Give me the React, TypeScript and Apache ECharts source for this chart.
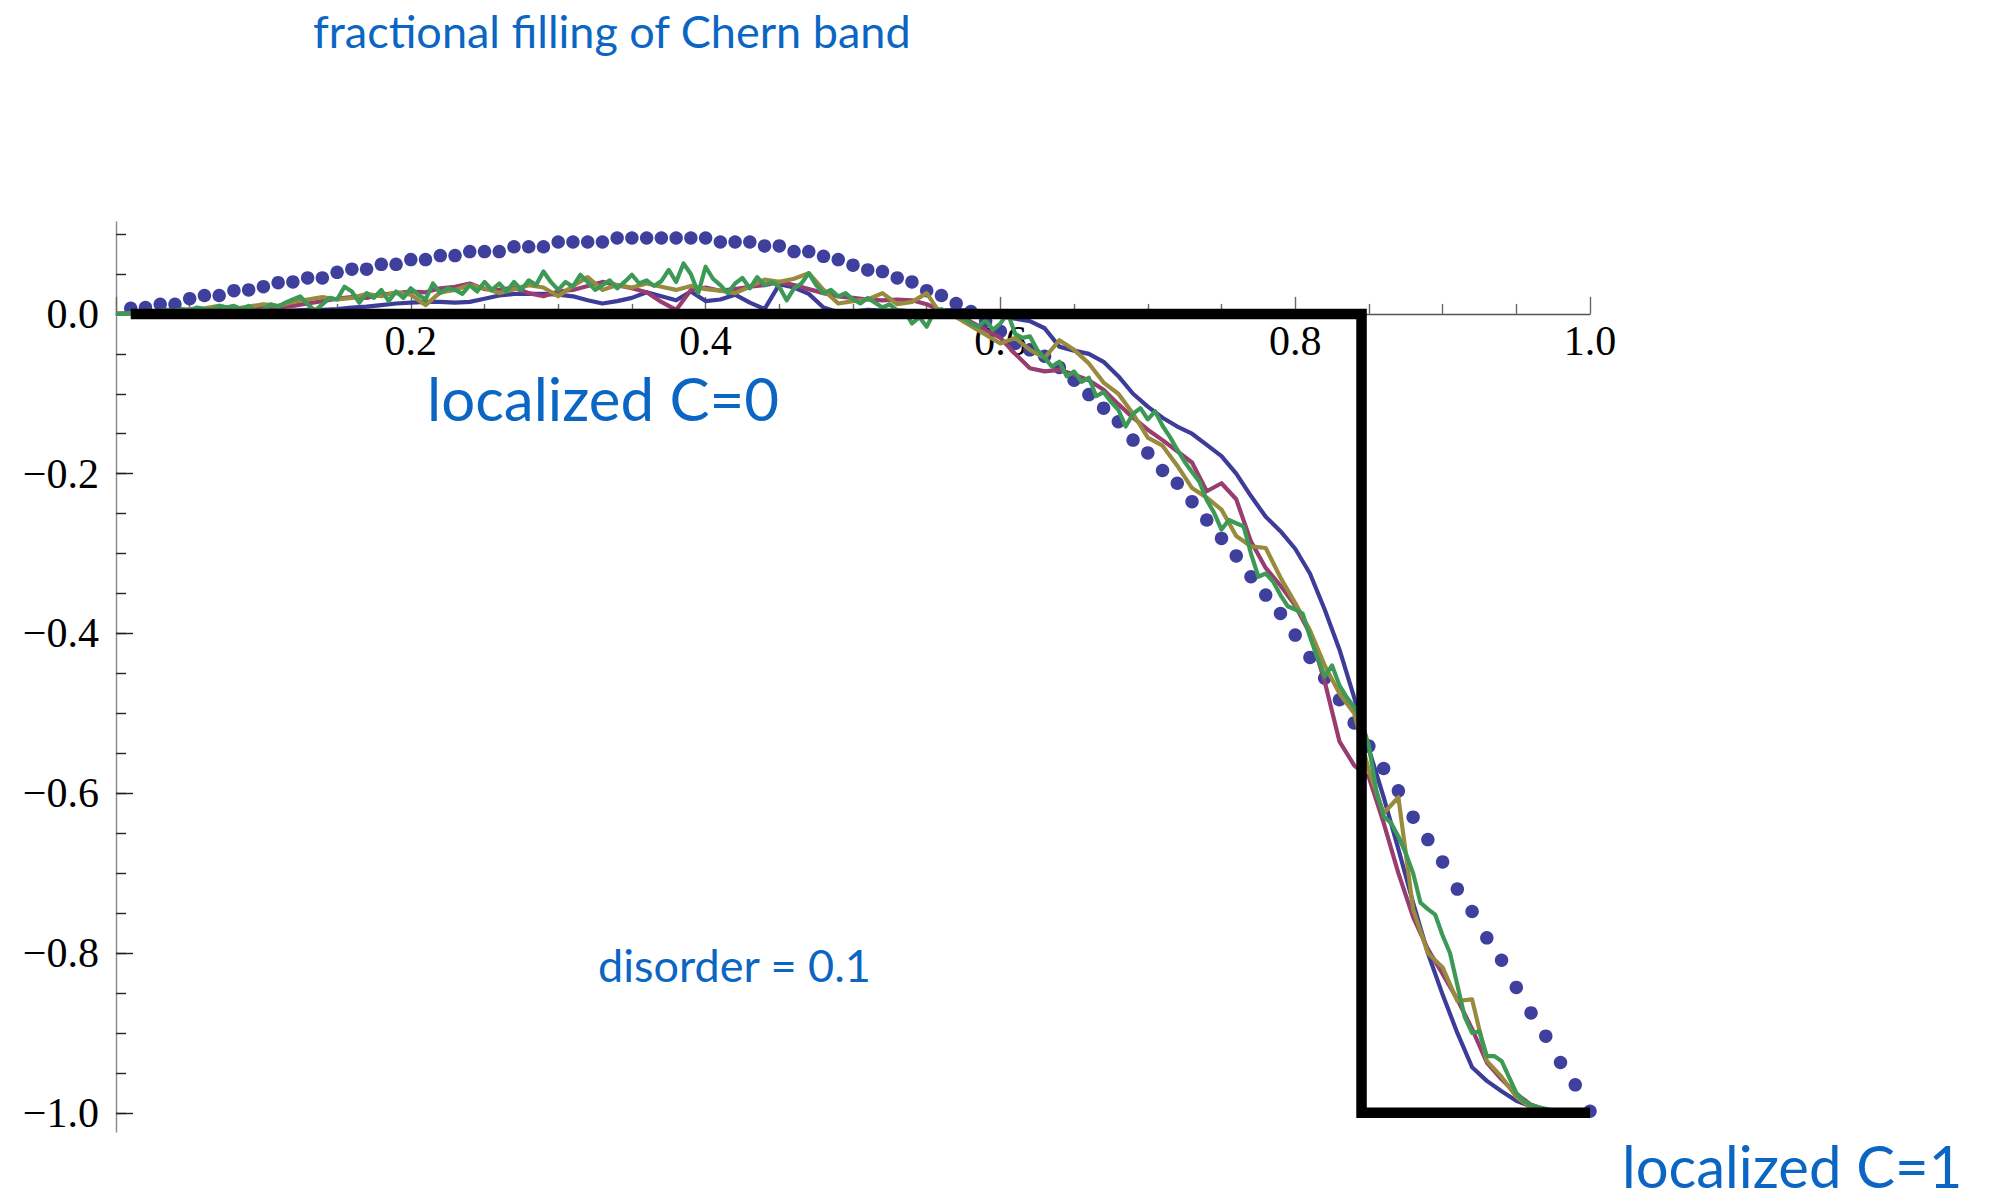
import { useEffect, useRef } from 'react';
import * as echarts from 'echarts';

// Dotted reference curve, sampled at x = 0.01, 0.02, ..., 1.00
const DOT_X0 = 0.01;
const DOT_STEP = 0.01;
const dotY = [
  0.007, 0.008, 0.012, 0.012, 0.019, 0.023, 0.023, 0.029, 0.030, 0.034,
  0.039, 0.040, 0.045, 0.045, 0.052, 0.056, 0.056, 0.062, 0.062, 0.068,
  0.068, 0.073, 0.073, 0.078, 0.078, 0.078, 0.084, 0.084, 0.084, 0.090,
  0.090, 0.090, 0.090, 0.095, 0.095, 0.095, 0.095, 0.095, 0.095, 0.095,
  0.090, 0.090, 0.090, 0.085, 0.085, 0.078, 0.078, 0.072, 0.068, 0.061,
  0.055, 0.053, 0.045, 0.040, 0.029, 0.023, 0.013, 0.003, -0.009, -0.022,
  -0.037, -0.045, -0.053, -0.067, -0.083, -0.101, -0.118, -0.135, -0.158, -0.174,
  -0.196, -0.212, -0.235, -0.258, -0.281, -0.303, -0.329, -0.352, -0.375, -0.402,
  -0.430, -0.456, -0.483, -0.512, -0.541, -0.569, -0.597, -0.630, -0.658, -0.686,
  -0.720, -0.748, -0.781, -0.809, -0.843, -0.875, -0.904, -0.937, -0.965, -0.998,
];

// Disorder realisations sampled at x = 0, 0.01, ..., 1.00
const LINE_STEP = 0.01;
const blueY = [
  0, 0, 0.001, 0.001, 0.001, 0.001, 0.002, 0.002, 0.002, 0.003,
  0.003, 0.004, 0.004, 0.005, 0.005, 0.006, 0.008, 0.009, 0.011, 0.013,
  0.014, 0.015, 0.015, 0.014, 0.015, 0.019, 0.023, 0.025, 0.025, 0.025,
  0.024, 0.022, 0.017, 0.013, 0.016, 0.020, 0.027, 0.022, 0.017, 0.028,
  0.016, 0.018, 0.024, 0.014, 0.006, 0.037, 0.033, 0.025, 0.008, 0.002,
  0.003, 0.005, 0.004, 0.004, 0.003, 0.003, 0.004, 0.005, 0.004, 0.001,
  -0.003, -0.006, -0.009, -0.018, -0.041, -0.046, -0.050, -0.060, -0.078, -0.100,
  -0.116, -0.130, -0.141, -0.150, -0.164, -0.178, -0.200, -0.228, -0.254, -0.272,
  -0.294, -0.325, -0.370, -0.420, -0.480, -0.545, -0.605, -0.670, -0.737, -0.800,
  -0.852, -0.900, -0.943, -0.960, -0.973, -0.985, -0.992, -0.997, -0.999, -1.000,
  -1.000,
];
const magentaY = [
  0, 0.001, 0.001, 0.002, 0.003, 0.004, 0.006, 0.005, 0.007, 0.008,
  0.009, 0.008, 0.010, 0.013, 0.016, 0.019, 0.021, 0.020, 0.024, 0.026,
  0.028, 0.027, 0.032, 0.034, 0.038, 0.031, 0.030, 0.033, 0.026, 0.022,
  0.028, 0.030, 0.035, 0.040, 0.036, 0.032, 0.027, 0.015, 0.005, 0.030,
  0.033, 0.029, 0.031, 0.034, 0.036, 0.040, 0.036, 0.031, 0.026, 0.022,
  0.020, 0.018, 0.017, 0.018, 0.017, 0.012, 0.004, 0.001, -0.010, -0.020,
  -0.030, -0.050, -0.068, -0.072, -0.070, -0.076, -0.083, -0.095, -0.113, -0.130,
  -0.145, -0.158, -0.172, -0.186, -0.222, -0.212, -0.232, -0.285, -0.318, -0.340,
  -0.365, -0.400, -0.460, -0.535, -0.565, -0.580, -0.637, -0.700, -0.755, -0.795,
  -0.826, -0.858, -0.895, -0.937, -0.958, -0.976, -0.990, -0.996, -1.000, -1.000,
  -1.000,
];
const oliveY = [
  0, 0.000, 0.001, 0.002, 0.004, 0.006, 0.007, 0.010, 0.006, 0.009,
  0.012, 0.010, 0.015, 0.018, 0.021, 0.018, 0.020, 0.025, 0.022, 0.027,
  0.024, 0.011, 0.027, 0.030, 0.036, 0.032, 0.026, 0.031, 0.036, 0.033,
  0.022, 0.035, 0.046, 0.030, 0.036, 0.033, 0.038, 0.034, 0.030, 0.035,
  0.031, 0.029, 0.026, 0.034, 0.043, 0.040, 0.044, 0.051, 0.030, 0.013,
  0.016, 0.018, 0.026, 0.012, 0.015, 0.026, -0.002, -0.004, -0.015, -0.026,
  -0.037, -0.030, -0.045, -0.055, -0.033, -0.045, -0.062, -0.086, -0.100, -0.125,
  -0.155, -0.165, -0.190, -0.218, -0.230, -0.245, -0.278, -0.291, -0.293, -0.330,
  -0.362, -0.396, -0.440, -0.475, -0.500, -0.572, -0.625, -0.605, -0.745, -0.800,
  -0.818, -0.860, -0.858, -0.935, -0.955, -0.980, -0.994, -0.998, -1.000, -1.000,
  -1.000,
];
// Finer realisation sampled at x = 0, 0.005, ..., 1.000
const GREEN_STEP = 0.005;
const greenY = [
  0, 0.000, 0.001, 0.000, 0.002, 0.001, 0.004, 0.005, 0.003, 0.006,
  0.004, 0.008, 0.006, 0.005, 0.010, 0.008, 0.010, 0.006, 0.010, 0.003,
  0.005, 0.012, 0.009, 0.014, 0.018, 0.022, 0.012, 0.004, 0.012, 0.020,
  0.018, 0.034, 0.028, 0.014, 0.026, 0.020, 0.030, 0.016, 0.028, 0.020,
  0.032, 0.024, 0.018, 0.038, 0.026, 0.032, 0.030, 0.025, 0.036, 0.028,
  0.040, 0.030, 0.038, 0.028, 0.040, 0.030, 0.042, 0.036, 0.053, 0.040,
  0.030, 0.040, 0.034, 0.049, 0.040, 0.030, 0.036, 0.042, 0.032, 0.040,
  0.049, 0.038, 0.042, 0.035, 0.041, 0.055, 0.040, 0.063, 0.050, 0.026,
  0.059, 0.044, 0.036, 0.026, 0.038, 0.045, 0.032, 0.046, 0.036, 0.040,
  0.034, 0.017, 0.032, 0.038, 0.051, 0.036, 0.026, 0.030, 0.022, 0.026,
  0.018, 0.013, 0.020, 0.014, 0.008, 0.012, 0.004, 0.004, -0.012, -0.004,
  -0.016, 0.002, 0.006, -0.003, 0.003, -0.006, -0.012, -0.016, -0.008, -0.020,
  -0.012, 0.001, -0.025, -0.030, -0.028, -0.045, -0.055, -0.066, -0.060, -0.078,
  -0.072, -0.085, -0.080, -0.103, -0.098, -0.110, -0.120, -0.141, -0.125, -0.118,
  -0.132, -0.122, -0.140, -0.154, -0.170, -0.185, -0.198, -0.210, -0.233, -0.249,
  -0.270, -0.258, -0.262, -0.266, -0.300, -0.329, -0.325, -0.335, -0.352, -0.366,
  -0.370, -0.375, -0.404, -0.430, -0.454, -0.440, -0.465, -0.480, -0.492, -0.510,
  -0.541, -0.596, -0.629, -0.637, -0.654, -0.675, -0.700, -0.737, -0.745, -0.752,
  -0.778, -0.800, -0.840, -0.880, -0.900, -0.898, -0.929, -0.929, -0.935, -0.955,
  -0.975, -0.985, -0.990, -0.993, -0.995, -0.997, -0.998, -0.999, -1.000, -1.000,
  -1.000,
];

// Clean-limit step: C = 0 below the transition, C = 1 above it
const stepX = [0.01, 0.845, 0.845, 1.0];
const stepY = [0, 0, -1, -1];

// Axis ticks
const xLabelValues = [0.2, 0.4, 0.6, 0.8, 1.0];
const yLabelValues = [-1.0, -0.8, -0.6, -0.4, -0.2, 0.0];
const yMinorValues = [
  -1.0, -0.95, -0.9, -0.85, -0.8, -0.75, -0.7, -0.65, -0.6, -0.55, -0.5, -0.45,
  -0.4, -0.35, -0.3, -0.25, -0.2, -0.15, -0.1, -0.05, 0.0, 0.05, 0.1,
];

const X_MIN = 0;
const X_MAX = 1;
const Y_MIN = -1.024;
const Y_MAX = 0.115;

// Plot area in pixels
const GRID_LEFT = 116;
const GRID_TOP = 222;
const GRID_W = 1474;
const GRID_H = 910;
// Distance from the grid's bottom edge up to the y = 0 line
const X_AXIS_OFFSET = -((0 - Y_MIN) / (Y_MAX - Y_MIN)) * GRID_H;

const toPairs = (ys: number[], x0: number, step: number) =>
  ys.map((y, i) => [Number((x0 + i * step).toFixed(4)), y]);

const C_DOTS = '#3f3f9d';
const C_BLUE = '#3d3d99';
const C_MAGENTA = '#993d71';
const C_OLIVE = '#998b3d';
const C_GREEN = '#3d9956';
const C_TEXT = '#0b66c3';

const serif = 'Liberation Serif, Times New Roman, serif';
const sans = 'Lato, Open Sans, sans-serif';

const fmt = (v: number) => (v < 0 ? '\u2212' : '') + Math.abs(v).toFixed(1);

export default function App() {
  const ref = useRef<HTMLDivElement>(null);

  useEffect(() => {
    if (!ref.current) return;
    const chart = echarts.init(ref.current, undefined, { renderer: 'svg' });

    const lineSeries = (name: string, data: number[][], color: string, width = 4.2) => ({
      name,
      type: 'line',
      data,
      showSymbol: false,
      symbol: 'none',
      lineStyle: { color, width, join: 'round' },
      z: 3,
    });

    chart.setOption({
      animation: false,
      backgroundColor: '#ffffff',
      grid: { left: GRID_LEFT, top: GRID_TOP, width: GRID_W, height: GRID_H, containLabel: false },
      xAxis: {
        type: 'value',
        position: 'bottom',
        offset: X_AXIS_OFFSET,
        min: X_MIN,
        max: X_MAX,
        interval: 0.2,
        axisLine: { onZero: false, lineStyle: { color: '#555', width: 1.4 } },
        axisTick: { inside: true, length: 17, lineStyle: { color: '#666', width: 1.4 } },
        minorTick: { show: true, splitNumber: 4, length: 10, lineStyle: { color: '#666', width: 1.4 } },
        axisLabel: {
          customValues: xLabelValues,
          formatter: (v: number) => v.toFixed(1),
          fontFamily: serif,
          fontSize: 42,
          color: '#000',
          margin: 6,
        },
        splitLine: { show: false },
        minorSplitLine: { show: false },
      },
      yAxis: [
        {
          type: 'value',
          position: 'left',
          min: Y_MIN,
          max: Y_MAX,
          axisLine: { onZero: false, lineStyle: { color: '#888', width: 1.4 } },
          axisTick: { customValues: yLabelValues, inside: true, length: 17, lineStyle: { color: '#222', width: 1.4 } },
          axisLabel: {
            customValues: yLabelValues,
            formatter: fmt,
            fontFamily: serif,
            fontSize: 42,
            color: '#000',
            margin: 17,
          },
          splitLine: { show: false },
        },
        {
          type: 'value',
          position: 'left',
          offset: 0,
          min: Y_MIN,
          max: Y_MAX,
          axisLine: { show: false, onZero: false },
          axisTick: { customValues: yMinorValues, inside: true, length: 10, lineStyle: { color: '#222', width: 1.4 } },
          axisLabel: { show: false },
          splitLine: { show: false },
        },
      ],
      series: [
        {
          name: 'dots',
          type: 'scatter',
          data: toPairs(dotY, DOT_X0, DOT_STEP),
          symbol: 'circle',
          symbolSize: 13.5,
          itemStyle: { color: C_DOTS, opacity: 1 },
          z: 2,
        },
        lineSeries('blue', toPairs(blueY, 0, LINE_STEP), C_BLUE),
        lineSeries('magenta', toPairs(magentaY, 0, LINE_STEP), C_MAGENTA),
        lineSeries('olive', toPairs(oliveY, 0, LINE_STEP), C_OLIVE),
        lineSeries('green', toPairs(greenY, 0, GREEN_STEP), C_GREEN),
        {
          name: 'step',
          type: 'line',
          data: stepX.map((x, i) => [x, stepY[i]]),
          showSymbol: false,
          symbol: 'none',
          lineStyle: { color: '#000', width: 10.5, cap: 'butt', join: 'miter' },
          z: 5,
        },
      ],
      graphic: [
        {
          type: 'text',
          left: 313,
          top: 8,
          style: { text: 'fractional filling of Chern band', fontFamily: sans, fontSize: 45, fill: C_TEXT },
        },
        {
          type: 'text',
          left: 427,
          top: 368,
          style: { text: 'localized C=0', fontFamily: sans, fontSize: 60, fill: C_TEXT },
        },
        {
          type: 'text',
          left: 598,
          top: 942,
          style: { text: 'disorder = 0.1', fontFamily: sans, fontSize: 45, fill: C_TEXT },
        },
        {
          type: 'text',
          left: 1622,
          top: 1136,
          style: { text: 'localized C=1', fontFamily: sans, fontSize: 58, fill: C_TEXT },
        },
      ],
    });

    return () => chart.dispose();
  }, []);

  return (
    <div
      ref={ref}
      style={{ position: 'fixed', left: 0, top: 0, width: 1995, height: 1204, background: '#fff' }}
    />
  );
}
